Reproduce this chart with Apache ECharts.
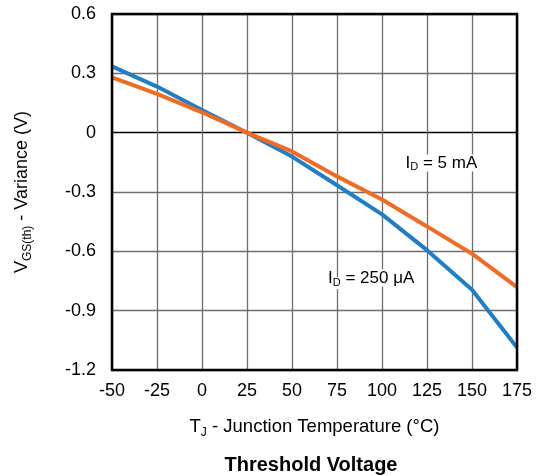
<!DOCTYPE html>
<html>
<head>
<meta charset="utf-8">
<script src="https://cdn.jsdelivr.net/npm/echarts@6/dist/echarts.min.js"></script>
<style>html,body{margin:0;padding:0;background:#fff}#c{width:537px;height:476px}</style>
</head>
<body>
<div id="c"></div>
<script>
var temps = [-50, -25, 0, 25, 50, 75, 100, 125, 150, 175];
var id250uA = [0.335, 0.233, 0.115, 0, -0.121, -0.266, -0.413, -0.594, -0.794, -1.086];
var id5mA = [0.28, 0.196, 0.103, 0, -0.095, -0.221, -0.338, -0.474, -0.612, -0.781];
var label5mA = [133, -0.153];
var label250uA = [94, -0.735];

var FONT = 'Liberation Sans, Arial, sans-serif';
function pairs(xs, ys) { return xs.map(function (x, i) { return [x, ys[i]]; }); }
var subRich = {
  n: { fontSize: 17, fontFamily: FONT, color: '#000', lineHeight: 22, verticalAlign: 'middle', backgroundColor: '#fff' },
  s: { fontSize: 11, fontFamily: FONT, color: '#000', lineHeight: 22, verticalAlign: 'bottom', backgroundColor: '#fff', padding: [0, 0, 1, 0] }
};

var chart = echarts.init(document.getElementById('c'), null, { renderer: 'canvas' });
chart.setOption({
  animation: false,
  backgroundColor: '#fff',
  grid: { left: 112, right: 20, top: 14, bottom: 106, show: true, borderColor: '#000', borderWidth: 2.5, backgroundColor: 'transparent', z: 10 },
  xAxis: {
    type: 'value', min: -50, max: 175, interval: 25,
    axisLine: { show: false }, axisTick: { show: false },
    axisLabel: { fontSize: 18, fontFamily: FONT, color: '#000', margin: 12 },
    splitLine: { show: true, lineStyle: { color: '#6e6e6e', width: 1.3 } },
    name: '{n|T}{s|J}{n| - Junction Temperature (°C)}',
    nameLocation: 'middle', nameGap: 45,
    nameTextStyle: {
      rich: {
        n: { fontSize: 18.5, fontFamily: FONT, color: '#000', lineHeight: 24, verticalAlign: 'middle' },
        s: { fontSize: 12, fontFamily: FONT, color: '#000', lineHeight: 24, verticalAlign: 'bottom' }
      }
    }
  },
  yAxis: {
    type: 'value', min: -1.2, max: 0.6, interval: 0.3,
    axisLine: { show: false }, axisTick: { show: false },
    axisLabel: { fontSize: 18, fontFamily: FONT, color: '#000', margin: 16,
      formatter: function (v) { return (Math.round(v * 10) / 10).toString(); } },
    splitLine: { show: true, lineStyle: { color: ['#6e6e6e', '#6e6e6e', '#6e6e6e', '#6e6e6e', '#000', '#6e6e6e', '#6e6e6e'], width: 1.3 } },
    name: '{n|V}{s|GS(th)}{n| - Variance (V)}',
    nameLocation: 'middle', nameGap: 78,
    nameTextStyle: {
      rich: {
        n: { fontSize: 18, fontFamily: FONT, color: '#000', lineHeight: 24, verticalAlign: 'middle' },
        s: { fontSize: 12, fontFamily: FONT, color: '#000', lineHeight: 24, verticalAlign: 'bottom' }
      }
    }
  },
  series: [
    {
      type: 'line', data: pairs(temps, id250uA), symbol: 'none', smooth: false,
      lineStyle: { color: '#1f7fc6', width: 4 }, z: 3,
      markPoint: {
        symbol: 'circle', symbolSize: 0, silent: true,
        label: { show: true, position: 'inside', formatter: '{n|I}{s|D}{n| = 250 μA}', rich: subRich },
        data: [{ coord: label250uA }]
      }
    },
    {
      type: 'line', data: pairs(temps, id5mA), symbol: 'none', smooth: false,
      lineStyle: { color: '#f26b22', width: 4 }, z: 4,
      markPoint: {
        symbol: 'circle', symbolSize: 0, silent: true,
        label: { show: true, position: 'inside', formatter: '{n|I}{s|D}{n| = 5 mA}', rich: subRich },
        data: [{ coord: label5mA }]
      }
    }
  ],
  graphic: [{
    type: 'text', x: 311, y: 465,
    style: { text: 'Threshold Voltage', textAlign: 'center', textVerticalAlign: 'middle', font: 'bold 20px ' + FONT, fill: '#000' }
  }]
});
</script>
</body>
</html>
